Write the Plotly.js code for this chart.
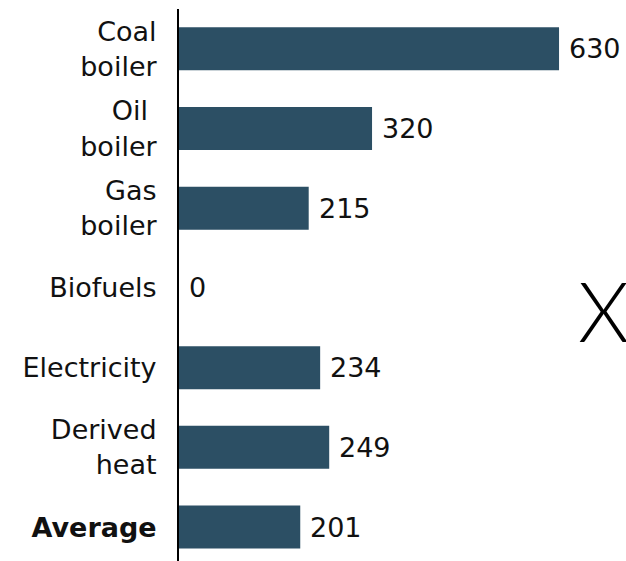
<!DOCTYPE html>
<html>
<head>
<meta charset="utf-8">
<script src="https://cdn.plot.ly/plotly-3.0.1.min.js"></script>
<style>html,body{margin:0;padding:0;background:#fff;}#chart{width:626px;height:561px;}</style>
</head>
<body>
<div id="chart"></div>
<script>
const categories = ["Coal<br>boiler", "Oil <br>boiler", "Gas<br>boiler", "Biofuels", "Electricity", "Derived<br>heat", "<b>Average</b>"];
const values = [630, 320, 215, 0, 234, 249, 201];
const valueLabels = ["630", "320", "215", "0", "234", "249", "201"];
const markerText = "X";

const FONT = "'DejaVu Sans', Lato, sans-serif";
const barColor = "#2c4f64";

const trace = {
  type: "bar",
  orientation: "h",
  y: categories,
  x: values,
  marker: {color: barColor, line: {width: 0}},
  width: 0.54,
  hoverinfo: "none"
};

const annotations = values.map((v, i) => ({
  x: v, y: categories[i], xref: "x", yref: "y",
  text: valueLabels[i], showarrow: false,
  xanchor: "left", yanchor: "middle", xshift: 8,
  font: {family: FONT, size: 27, color: "#111"}
}));
annotations.push({
  xref: "paper", yref: "paper", x: (603 - 179) / 447, y: (561 - 310) / 552,
  text: markerText, showarrow: false, xanchor: "center", yanchor: "middle",
  font: {family: "Lato, sans-serif", size: 82, color: "#000", weight: 300}
});

const layout = {
  width: 626, height: 561,
  margin: {l: 179, r: 0, t: 9, b: 0},
  paper_bgcolor: "#fff", plot_bgcolor: "#fff",
  showlegend: false,
  font: {family: FONT, color: "#111"},
  xaxis: {range: [0, 741], visible: false, fixedrange: true},
  yaxis: {
    type: "category", categoryorder: "array", categoryarray: categories,
    range: [6.426, -0.5],
    showline: true, linecolor: "#000", linewidth: 2,
    showgrid: false, zeroline: false, ticks: "",
    ticklabelstandoff: 15,
    tickfont: {family: FONT, size: 27, color: "#111"}
  },
  annotations: annotations
};

Plotly.newPlot("chart", [trace], layout, {staticPlot: true, displayModeBar: false});
</script>
</body>
</html>
